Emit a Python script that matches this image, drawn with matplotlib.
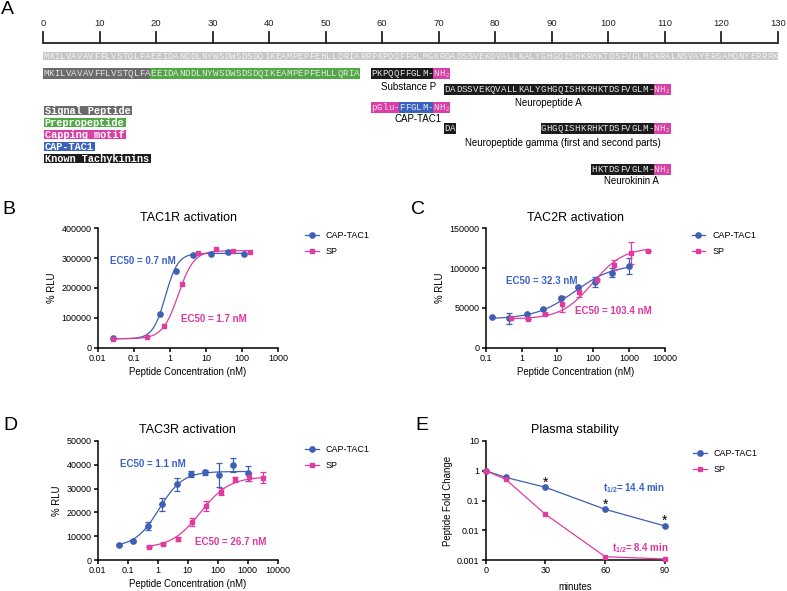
import numpy as np
import matplotlib
matplotlib.use("Agg")
import matplotlib.pyplot as plt
from matplotlib.patches import Rectangle
from matplotlib.lines import Line2D

plt.rcParams['font.family'] = ['Liberation Sans', 'DejaVu Sans']
plt.rcParams['mathtext.fontset'] = 'custom'
plt.rcParams['mathtext.bf'] = 'Liberation Sans:bold'
plt.rcParams['mathtext.rm'] = 'Liberation Sans'

# ---------------- data ----------------
precursor = "MKILVAVAVFFLVSTQLFAEEIDANDDLNYWSDWSDSDQIKEAMPEPFEHLLQRIARRPKPQQFFGLMGKRDADSSVEKQVALLKALYGHGQISHKRHKTDSFVGLMGKRALNSVAYERSAMQNYERRRK"
ruler_ticks = list(range(0, 131, 10))

# (start residue, text, region)
row_sp = [(0, "MKILVAVAVFFLVSTQLFA", "signal"), (19, "EEIDANDDLNYWSDWSDSDQIKEAMPEPFEHLLQRIA", "prepro"),
          (58, "PKPQQFFGLM-", "known"), (69, "NH\u2082", "cap")]
row_npa = [(71, "DADSSVEKQVALLKALYGHGQISHKRHKTDSFVGLM-", "known"), (108, "NH\u2082", "cap")]
row_captac = [(58, "pGlu-", "cap"), (63, "FFGLM-", "captac"), (69, "NH\u2082", "cap")]
row_npg = [(71, "DA", "known"), (88, "GHGQISHKRHKTDSFVGLM-", "known"), (108, "NH\u2082", "cap")]
row_nka = [(97, "HKTDSFVGLM-", "known"), (108, "NH\u2082", "cap")]

region_names = ["Signal Peptide", "Prepropeptide", "Capping motif", "CAP-TAC1", "Known Tachykinins"]
region_keys = ["signal", "prepro", "cap", "captac", "known"]
region_colors = {"signal": "#6b6b6b", "prepro": "#52a845", "cap": "#dc3ea8",
                 "captac": "#3a62c0", "known": "#1c1c1c"}

# TAC1R
b_conc_cap = [0.026, 0.53, 1.48, 4.45, 13.5, 40, 115]
b_rlu_cap = [31500, 111900, 257000, 310500, 314000, 319600, 314000]
b_conc_sp = [0.026, 0.228, 0.69, 2.12, 6.1, 18.9, 55, 166]
b_rlu_sp = [28000, 36800, 73700, 212400, 316000, 330600, 323000, 319600]
b_fit_cap = (30000, 316000, 0.75, 2.5)   # bottom, top, EC50, hill
b_fit_sp = (30000, 325000, 1.7, 2.0)

# TAC2R
c_conc_cap = [0.153, 0.45, 1.39, 4.03, 12.3, 36.5, 111, 336, 1000]
c_rlu_cap = [38900, 36900, 42300, 48600, 62800, 75900, 82200, 94200, 102600]
c_err_cap = [0, 6700, 0, 0, 1500, 1500, 6300, 5600, 9800]
c_conc_sp = [0.5, 1.48, 4.5, 13.6, 40.5, 123, 370, 1100, 3300]
c_rlu_sp = [36900, 36000, 42300, 54900, 70400, 85000, 103900, 118600, 121500]
c_err_sp = [0, 0, 0, 10400, 7100, 1500, 6300, 14000, 0]
c_fit_cap = (36000, 105000, 30, 0.8)
c_fit_sp = (36000, 126000, 95, 1.0)

# TAC3R
d_conc_cap = [0.052, 0.154, 0.46, 1.42, 4.3, 12.6, 37.8, 110, 331, 1000]
d_rlu_cap = [6300, 8000, 14400, 23400, 31800, 36000, 36800, 35700, 39900, 36400]
d_err_cap = [300, 300, 1600, 2800, 2600, 1300, 1000, 5000, 2800, 3100]
d_conc_sp = [0.52, 1.54, 4.6, 13.9, 41, 126, 378, 1130, 3300]
d_rlu_sp = [5600, 6700, 8800, 16100, 22700, 28700, 33900, 34700, 34600]
d_err_sp = [300, 400, 800, 1700, 2000, 1500, 1000, 1700, 2400]
d_fit_cap = (5500, 37200, 1.1, 1.1)
d_fit_sp = (5000, 35000, 26.7, 0.9)

# plasma stability
e_minutes = [0, 10, 30, 60, 90]
e_cap = [1.0, 0.60, 0.278, 0.0505, 0.0139]
e_sp = [1.0, 0.516, 0.0343, 0.00129, 0.00108]
e_star_minutes = [30, 60, 90]

BLUE = "#3d5fb4"
PINK = "#e03c9e"
TBLUE = "#3a62c8"
TPINK = "#e0359f"

W, H = 787, 591
fig = plt.figure(figsize=(W / 100, H / 100), dpi=100)


def px_axes(l, t, r, b):
    return fig.add_axes([l / W, 1 - b / H, (r - l) / W, (b - t) / H])


def logistic(x, bottom, top, ec50, hill):
    return bottom + (top - bottom) / (1 + (ec50 / x) ** hill)


mono = ['Liberation Mono', 'DejaVu Sans Mono']

# ---------------- panel A ----------------
axA = px_axes(43, 0, 778, 195)
axA.set_xlim(0, 130)
axA.set_ylim(195, 0)
axA.axis('off')

axA.plot([0, 130], [43, 43], color='#222222', lw=1.3, clip_on=False, solid_capstyle='butt')
for t in ruler_ticks:
    axA.plot([t, t], [32, 43], color='#222222', lw=1.3, clip_on=False)
    axA.text(t, 24, str(t), ha='center', va='center', fontsize=6.8, color='#222222')

axA.add_patch(Rectangle((0, 52), 130, 8, fc='#c6c6c6', ec='none'))
for i, ch in enumerate(precursor):
    axA.text(i + 0.5, 56.2, ch, ha='center', va='center', family=mono, fontsize=6.3, color='#f4f4f4')


def draw_row(row, yc, h=11):
    for start, text, key in row:
        axA.add_patch(Rectangle((start, yc - h / 2), len(text), h, fc=region_colors[key], ec='none'))
        for i, ch in enumerate(text):
            axA.text(start + i + 0.5, yc + 0.3, ch, ha='center', va='center', family=mono,
                     fontsize=6.6, color='#e6e6e6')


draw_row(row_sp, 73.5)
draw_row(row_npa, 89)
draw_row(row_captac, 107.5)
draw_row(row_npg, 128)
draw_row(row_nka, 169.5)

axA.text(64.6, 86.5, "Substance P", ha='center', va='center', fontsize=7)
axA.text(89.4, 103.5, "Neuropeptide A", ha='center', va='center', fontsize=7)
axA.text(66.4, 118.5, "CAP-TAC1", ha='center', va='center', fontsize=7)
axA.text(92, 142.5, "Neuropeptide gamma (first and second parts)", ha='center', va='center', fontsize=7)
axA.text(104.1, 181.5, "Neurokinin A", ha='center', va='center', fontsize=7)

for k, (name, key) in enumerate(zip(region_names, region_keys)):
    yc = 110.7 + 12 * k
    axA.add_patch(Rectangle((0.2, yc - 4.5), len(name) * 1.097 + 0.2, 9, fc=region_colors[key], ec='none'))
    axA.text(0.3, yc + 0.3, name, ha='left', va='center', family=mono, fontsize=7.4,
             weight='bold', color='white')


# ---------------- dose-response panels ----------------
def style_axes(ax):
    for s in ['top', 'right']:
        ax.spines[s].set_visible(False)
    for s in ['left', 'bottom']:
        ax.spines[s].set_linewidth(1.1)
    ax.tick_params(length=3, width=1.1, pad=1.5, labelsize=6.5)


def dose_panel(ax, cc, yc, ec, cs, ys, es, fit_c, fit_s, xlim, xticks, yticks, title):
    style_axes(ax)
    ax.set_xscale('log')
    xf = np.logspace(np.log10(cc[0]), np.log10(cc[-1]), 300)
    ax.plot(xf, logistic(xf, *fit_c), color=BLUE, lw=0.9)
    xf = np.logspace(np.log10(cs[0]), np.log10(cs[-1]), 300)
    ax.plot(xf, logistic(xf, *fit_s), color=PINK, lw=0.9)
    ax.errorbar(cc, yc, yerr=ec, fmt='o', color=BLUE, ms=3.8, capsize=2, elinewidth=0.9, capthick=0.9,
                clip_on=False, zorder=3)
    ax.errorbar(cs, ys, yerr=es, fmt='s', color=PINK, ms=3.5, capsize=2, elinewidth=0.9, capthick=0.9,
                clip_on=False, zorder=3)
    ax.set_xlim(*xlim)
    ax.set_ylim(yticks[0], yticks[-1])
    ax.set_xticks(xticks)
    ax.set_xticklabels(['%g' % v for v in xticks])
    ax.minorticks_off()
    ax.set_yticks(yticks)
    ax.set_yticklabels([str(v) for v in yticks])
    ax.set_title(title, fontsize=9, pad=5.5)
    ax.set_xlabel("Peptide Concentration (nM)", fontsize=6.9, labelpad=3)
    ax.set_ylabel("% RLU", fontsize=6.9, labelpad=3)


def add_legend(ax, x, y):
    handles = [Line2D([], [], color=BLUE, marker='o', ms=3.8, lw=0.9),
               Line2D([], [], color=PINK, marker='s', ms=3.5, lw=0.9)]
    ax.legend(handles, ["CAP-TAC1", "SP"], loc='upper left', bbox_to_anchor=(x / W, 1 - y / H),
              bbox_transform=fig.transFigure, frameon=False, fontsize=6.5, borderpad=0,
              borderaxespad=0, handlelength=1.5, handletextpad=0.8, labelspacing=0.75)


axB = px_axes(97.7, 228.3, 278.3, 347.7)
dose_panel(axB, b_conc_cap, b_rlu_cap, None, b_conc_sp, b_rlu_sp, None, b_fit_cap, b_fit_sp,
           (0.01, 1000), [0.01, 0.1, 1, 10, 100, 1000], [0, 100000, 200000, 300000, 400000],
           "TAC1R activation")
axB.text(0.022, 291000, "EC50 = 0.7 nM", color=TBLUE, fontsize=7, weight='bold', va='center')
axB.text(2.0, 96000, "EC50 = 1.7 nM", color=TPINK, fontsize=7, weight='bold', va='center')
add_legend(axB, 305, 231.5)

axC = px_axes(485.7, 228.3, 665, 347.7)
dose_panel(axC, c_conc_cap, c_rlu_cap, c_err_cap, c_conc_sp, c_rlu_sp, c_err_sp, c_fit_cap, c_fit_sp,
           (0.1, 10000), [0.1, 1, 10, 100, 1000, 10000], [0, 50000, 100000, 150000],
           "TAC2R activation")
axC.text(0.38, 84000, "EC50 = 32.3 nM", color=TBLUE, fontsize=7, weight='bold', va='center')
axC.text(31, 46000, "EC50 = 103.4 nM", color=TPINK, fontsize=7, weight='bold', va='center')
add_legend(axC, 691.5, 231.5)

axD = px_axes(97.7, 441, 277.7, 560)
dose_panel(axD, d_conc_cap, d_rlu_cap, d_err_cap, d_conc_sp, d_rlu_sp, d_err_sp, d_fit_cap, d_fit_sp,
           (0.01, 10000), [0.01, 0.1, 1, 10, 100, 1000, 10000], [0, 10000, 20000, 30000, 40000, 50000],
           "TAC3R activation")
axD.text(0.055, 40300, "EC50 = 1.1 nM", color=TBLUE, fontsize=7, weight='bold', va='center')
axD.text(17.5, 7700, "EC50 = 26.7 nM", color=TPINK, fontsize=7, weight='bold', va='center')
add_legend(axD, 305, 445)

# ---------------- panel E ----------------
axE = px_axes(485.7, 441, 665, 560)
style_axes(axE)
axE.set_yscale('log')
axE.plot(e_minutes, e_cap, color=BLUE, marker='o', ms=3.8, lw=0.9, clip_on=False, zorder=3)
axE.plot(e_minutes, e_sp, color=PINK, marker='s', ms=3.5, lw=0.9, clip_on=False, zorder=3)
axE.set_xlim(0, 90)
axE.set_ylim(0.001, 10)
axE.set_xticks([0, 30, 60, 90])
axE.set_yticks([0.001, 0.01, 0.1, 1, 10])
axE.set_yticklabels(['0.001', '0.01', '0.1', '1', '10'])
axE.minorticks_off()
axE.set_title("Plasma stability", fontsize=9, pad=5.5)
axE.set_xlabel("minutes", fontsize=6.9, labelpad=5)
axE.set_ylabel("Peptide Fold Change", fontsize=6.9, labelpad=3)
for m in e_star_minutes:
    axE.annotate("*", (m, e_cap[e_minutes.index(m)]), xytext=(0, -1.5), textcoords='offset points',
                 ha='center', va='bottom', fontsize=10)
axE.text(59, 0.27, r"$\mathbf{t_{1/2}}$= 14.4 min", color=TBLUE, fontsize=7, weight='bold', va='center')
axE.text(63.3, 0.0026, r"$\mathbf{t_{1/2}}$= 8.4 min", color=TPINK, fontsize=7, weight='bold', va='center')
add_legend(axE, 693, 449.5)

# panel letters
for letter, x, y in [("A", 7.5, 9.5), ("B", 8.5, 209.5), ("C", 418.5, 209.5), ("D", 10, 425), ("E", 421.5, 426)]:
    fig.text(x / W, 1 - y / H, letter, ha='center', va='center', fontsize=14)

fig.savefig("out.png", dpi=100)
